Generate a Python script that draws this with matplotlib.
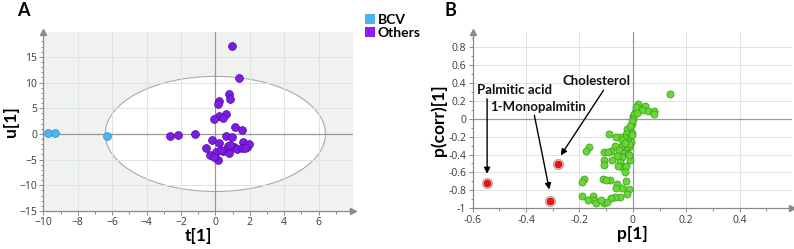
import numpy as np
import matplotlib
matplotlib.use("Agg")
import matplotlib.pyplot as plt
from matplotlib.patches import Ellipse
from matplotlib.lines import Line2D

plt.rcParams['font.family'] = ['Open Sans', 'DejaVu Sans']

# panel A: score plot t[1] / u[1]
bcv_t = [-9.7, -9.3, -6.3]
bcv_u = [0.2, 0.2, -0.4]
oth_t = [0.98, 1.35, 0.82, 0.86, 0.24, 0.15, 0.63, 0.24, -0.09, 0.43, 1.17, 1.52,
         -2.65, -2.2, -1.17, -0.22, 0.19, 0.63, 0.96, -0.53, -0.3, 0.05, 0.14, 0.43,
         0.77, 0.73, 1.11, 1.27, 1.6, 1.56, 1.85, 1.98, 1.7, 0.85, 0.35, -0.05]
oth_u = [17.1, 10.8, 7.7, 6.8, 6.4, 5.8, 3.8, 3.5, 3.0, 3.1, 1.4, 0.74,
         -0.43, -0.3, -0.1, -1.2, -1.7, -0.43, -0.68, -2.8, -4.1, -3.5, -5.1, -3.3,
         -3.8, -2.4, -2.5, -3.0, -1.5, -2.8, -2.5, -2.0, -2.7, -2.2, -3.1, -4.4]

# panel B: S-plot p[1] / p(corr)[1]
red_p = [-0.546, -0.311, -0.282]
red_corr = [-0.716, -0.92, -0.503]
green_p = [0.138, 0.02, 0.047, 0.056, 0.078, 0.081, 0.026, 0.01, 0.0, 0.006, 0.001,
           -0.005, -0.009, -0.021, -0.005, -0.027, -0.009, -0.006, -0.021, -0.034,
           -0.049, -0.065, -0.09, -0.04, -0.015, -0.027, -0.046, -0.068, -0.083,
           -0.052, -0.034, -0.017, -0.011, -0.04, -0.058, -0.108, -0.077, -0.108,
           -0.108, -0.049, -0.04, -0.056, -0.025, -0.164, -0.177, -0.183, -0.192,
           -0.112, -0.086, -0.024, -0.058, -0.04, -0.065, -0.015, -0.021, -0.049,
           -0.068, -0.083, -0.189, -0.149, -0.146, -0.168, -0.139, -0.108, -0.096,
           -0.12, 0.012, -0.002, -0.012, -0.003, -0.016, -0.03, -0.013, 0.035,
           0.016, -0.1, -0.095, -0.03]
green_corr = [0.28, 0.168, 0.138, 0.086, 0.086, 0.056, 0.112, 0.093, 0.03, 0.056, 0.0,
              -0.056, -0.112, -0.112, -0.16, -0.168, -0.21, -0.26, -0.24, -0.21,
              -0.2, -0.2, -0.175, -0.24, -0.32, -0.32, -0.32, -0.30, -0.36,
              -0.354, -0.38, -0.39, -0.46, -0.43, -0.42, -0.373, -0.466, -0.46,
              -0.52, -0.485, -0.54, -0.533, -0.533, -0.317, -0.36, -0.67, -0.71,
              -0.67, -0.68, -0.70, -0.73, -0.77, -0.77, -0.79, -0.84, -0.876,
              -0.876, -0.88, -0.858, -0.865, -0.91, -0.91, -0.94, -0.94, -0.93,
              -0.91, 0.13, -0.03, -0.08, -0.18, -0.28, -0.27, -0.4, 0.1,
              0.06, -0.68, -0.37, -0.6]

ann_text = ['Palmitic acid', '1-Monopalmitin', 'Cholesterol']
ann_xy = [(-0.546, -0.615), (-0.313, -0.79), (-0.27, -0.41)]
ann_from = [(-0.546, 0.22), (-0.369, 0.037), (-0.11, 0.316)]
ann_pos = [(-0.585, 0.316), (-0.533, 0.126), (-0.262, 0.417)]

W, H = 794, 249
fig = plt.figure(figsize=(W / 100, H / 100), dpi=100)

grid_c = '#dde3e0'
axis_c = '#8a8a8a'
tick_c = '#3a3a3a'


def style_axes(ax):
    for s in ['top', 'right']:
        ax.spines[s].set_visible(False)
    for s in ['left', 'bottom']:
        ax.spines[s].set_color(axis_c)
        ax.spines[s].set_linewidth(0.9)
    ax.tick_params(which='both', colors=axis_c, labelcolor=tick_c, labelsize=7.5,
                   length=3, width=0.7, pad=1.5)
    ax.tick_params(which='minor', length=1.8)
    ax.grid(True, color=grid_c, linewidth=0.7, zorder=0)
    ax.set_axisbelow(True)
    ax.plot(1, 0, '>', color=axis_c, markersize=4, transform=ax.transAxes, clip_on=False)
    ax.plot(0, 1, '^', color=axis_c, markersize=4, transform=ax.transAxes, clip_on=False)
    ax.axhline(0, color='#999999', linewidth=0.9, zorder=1)
    ax.axvline(0, color='#999999', linewidth=0.9, zorder=1)


# ---- panel A
axA = fig.add_axes([43.3 / W, 1 - 211 / H, (353 - 43.3) / W, (211 - 31.7) / H])
axA.set_facecolor('#eff2f0')
axA.add_patch(Ellipse((0, 0), 12.8, 22.4, facecolor='white', edgecolor='#aaaaaa',
                      linewidth=0.8, zorder=0.5))
style_axes(axA)
axA.set_xlim(-10, 8)
axA.set_ylim(-15, 19.9)
axA.set_xticks(np.arange(-10, 7, 2))
axA.set_yticks(np.arange(-15, 16, 5))
axA.set_xticks(np.arange(-10, 8, 1), minor=True)
axA.set_yticks(np.arange(-15, 19, 1), minor=True)
axA.scatter(bcv_t, bcv_u, s=32, color='#4db6ef', edgecolors='#2c8cc8', linewidths=0.5, zorder=3)
axA.scatter(oth_t, oth_u, s=32, color='#7d1ce6', edgecolors='#4e0c9c', linewidths=0.5, zorder=3)
axA.set_xlabel('t[1]', fontsize=12.5, fontweight='bold', family='Lato', labelpad=0)
axA.set_ylabel('u[1]', fontsize=12.5, fontweight='bold', family='Lato', labelpad=0)

handles = [Line2D([], [], marker='s', linestyle='none', markersize=7.5,
                  color='#48b4f0', markeredgewidth=0),
           Line2D([], [], marker='s', linestyle='none', markersize=7.5,
                  color='#8a1cff', markeredgewidth=0)]
fig.legend(handles, ['BCV', 'Others'], loc='upper left',
           bbox_to_anchor=(356 / W, 1 - 7 / H), frameon=False,
           handletextpad=0.05, labelspacing=0.05, borderpad=0, handlelength=1,
           prop={'family': 'Lato', 'weight': 'bold', 'size': 10})

# ---- panel B
axB = fig.add_axes([472.7 / W, 1 - 208.3 / H, (791.7 - 472.7) / W, (208.3 - 31.7) / H])
axB.set_facecolor('white')
style_axes(axB)
axB.set_xlim(-0.6, 0.595)
axB.set_ylim(-1, 0.97)
axB.set_xticks([-0.6, -0.4, -0.2, 0, 0.2, 0.4])
axB.set_xticklabels(['-0.6', '-0.4', '-0.2', '0', '0.2', '0.4'])
yt = [-1, -0.8, -0.6, -0.4, -0.2, 0, 0.2, 0.4, 0.6, 0.8]
axB.set_yticks(yt)
axB.set_yticklabels(['-1', '-0.8', '-0.6', '-0.4', '-0.2', '0', '0.2', '0.4', '0.6', '0.8'])
axB.set_yticks(np.arange(-1, 0.95, 0.1), minor=True)
axB.set_xticks(np.arange(-0.6, 0.6, 0.1), minor=True)
axB.scatter(green_p, green_corr, s=26, color='#67d636', edgecolors='#3a9a1a', linewidths=0.5, zorder=3)
axB.scatter(red_p, red_corr, s=55, color='#e9b0a8', edgecolors='#888888', linewidths=0.4, zorder=3)
axB.scatter(red_p, red_corr, s=24, color='#f01010', edgecolors='#a00000', linewidths=0.3, zorder=4)
for txt, xy, start, pos in zip(ann_text, ann_xy, ann_from, ann_pos):
    axB.annotate('', xy=xy, xytext=start,
                 arrowprops=dict(arrowstyle='-|>', color='black', lw=1.0,
                                 mutation_scale=9, shrinkA=0, shrinkB=0))
    axB.text(pos[0], pos[1], txt, fontsize=9.5, fontweight='bold', family='Lato',
             ha='left', va='center', color='#111111')
axB.set_xlabel('p[1]', fontsize=12.5, fontweight='bold', family='Lato', labelpad=0)
axB.set_ylabel('p(corr)[1]', fontsize=12.5, fontweight='bold', family='Lato', labelpad=1)

fig.text(17 / W, 1 - 10 / H, 'A', fontsize=13, fontweight='bold', family='Lato', va='center')
fig.text(445 / W, 1 - 10 / H, 'B', fontsize=13, fontweight='bold', family='Lato', va='center')

fig.savefig('out.png', dpi=100)
